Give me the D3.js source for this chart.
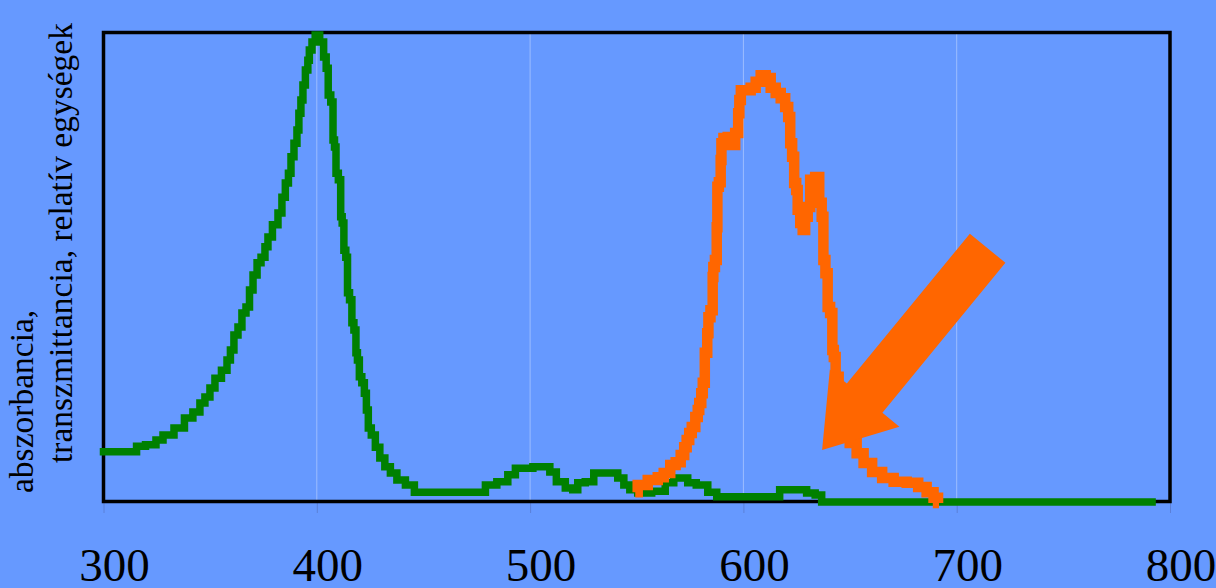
<!DOCTYPE html>
<html>
<head>
<meta charset="utf-8">
<script src="https://cdn.jsdelivr.net/npm/d3@7"></script>
<style>
html,body{margin:0;padding:0;background:#6699FF;}
svg{display:block;}
</style>
</head>
<body>
<svg id="chart" width="1216" height="588"></svg>
<script>
// ---------- data ----------
const xTicks = [300, 400, 500, 600, 700, 800];
const gridTicks = [400, 500, 600, 700];
const yLabelLines = ["abszorbancia,", "transzmittancia, relatív egységek"];

// green: absorbance spectrum (wavelength nm, relative units 0..100)
const greenWl = [300,315,316,323.4,325.8,330,336.1,339.8,344,346.4,348.7,351.1,353.4,357.2,358.6,360.4,361.9,364.2,365.6,368,368.9,371.3,372.7,375,376.4,377.8,380.6,383,384.3,386.2,387.2,388.6,390,391.4,391.8,393.3,393.7,395.6,396,397,398.5,400,402.7,403.7,405.1,405.6,407.5,407.7,408.9,409.1,411.1,411.3,412.5,412.9,414.3,414.5,416.2,416.7,418.1,418.6,419.5,420.4,421.8,422.8,423.7,424.6,426.5,428.4,430.7,433.1,435.9,439.2,443.9,447.6,476.7,481.4,487.4,491.7,494.5,508.1,510.4,514.2,518.8,521.2,523.5,528.2,531.5,539.9,542.3,545.6,547.9,553,561,565.7,569,572.7,575.1,580.7,585.9,589.1,615.8,618.2,628,631.3,636,637.4,791.6];
const greenVal = [10.7,10.7,11.9,12.2,13.2,14.3,15.8,17.9,19.2,21.1,22.4,24.3,26.4,28.1,30.3,32.4,35.6,37.3,40.3,41.6,45.2,48.4,51.0,52.2,54.4,56.5,59.1,61.6,65.0,68.0,70.1,73.6,76.5,79.3,82.9,85.7,88.9,92.1,94.2,96.4,98.1,99.6,98.1,94.9,92.5,86.8,85.3,77.2,75.7,70.1,68.7,60.8,59.5,53.7,52.2,44.6,43.1,38.2,36.7,31.8,30.3,26.7,25.4,23.2,19.6,15.8,14.3,11.7,9.4,7.5,6.2,4.7,3.6,2.1,2.1,3.6,4.3,5.8,7.2,7.5,6.4,4.3,3.0,2.6,4.1,4.3,6.2,6.2,5.1,3.6,2.6,1.9,2.3,4.1,5.1,5.1,4.1,3.6,2.1,1.1,1.1,2.6,2.6,1.9,1.5,0,0];

// orange: transmittance spectrum
const orangeWl = [549.3,551.6,558.7,561,564.3,567.1,569.4,571.8,572.7,574.1,575.1,576.5,578.4,578.8,579.8,580.7,581.2,582.6,583.5,583.7,585.4,585.8,586,587.3,587.7,587.9,589.1,589.6,589.8,591.5,593.8,595.2,597.1,598,598.2,599.4,602.2,604.6,606.9,609.3,611.6,614,616.3,618.7,620.5,621.5,622.4,623.3,624.3,625.2,625.7,627.6,628,629.9,630.4,632.2,635.1,636,637.4,637.6,639.3,639.7,641.6,641.8,643,643.5,645.8,648.2,651.5,654.7,658,662.7,667.4,673.5,679.6,684.3,687.5,690.8,691.7];
const orangeVal = [2.1,3.6,4.7,5.3,6.2,7.9,8.5,10.0,11.7,13.2,14.7,16.0,18.1,19.6,21.1,23.2,25.4,31.8,36.0,39.4,40.9,48.0,50.1,51.6,58.6,67.2,68.2,72.9,76.5,77.6,77.8,76.1,78.7,82.9,85.7,87.8,87.8,88.3,89.6,91.0,90.4,88.3,87.2,86.1,84.2,82.1,76.5,73.6,68.0,66.5,62.3,59.5,58.0,60.8,62.9,68.7,69.3,63.8,60.8,51.6,48.8,41.6,40.3,32.4,30.9,26.7,21.7,16.4,12.6,10.4,8.3,6.4,5.1,4.3,4.1,3.2,2.1,0.9,-0.2];

// arrow annotation (data coordinates)
const arrowTip = {wl: 636.9, val: 11.1};
const arrowTail = {wl: 714.5, val: 54.1};

// ---------- layout ----------
const W = 1216, H = 588;
const m = {left: 103.5, right: 1170, top: 33, bottom: 502};
const svg = d3.select("#chart");
svg.append("rect").attr("width", W).attr("height", H).attr("fill", "#6699FF");

const x = d3.scaleLinear().domain([300, 800]).range([m.left, m.right]);
const y = d3.scaleLinear().domain([0, 100]).range([m.bottom, m.top]);

// grid lines
svg.append("g").selectAll("line").data(gridTicks).join("line")
  .attr("x1", d => x(d)).attr("x2", d => x(d))
  .attr("y1", m.top).attr("y2", m.bottom)
  .attr("stroke", "#9DBDFF").attr("stroke-width", 1);

// x axis
const xAxis = d3.axisBottom(x).tickValues(xTicks).tickSize(11).tickPadding(0).tickFormat(d3.format("d"));
const gx = svg.append("g").attr("transform", `translate(0,${m.bottom})`).call(xAxis);
gx.select(".domain").remove();
gx.selectAll(".tick line").attr("stroke", "#5B80D8").attr("stroke-width", 1);
gx.selectAll(".tick text")
  .attr("fill", "#000")
  .attr("font-family", "'Liberation Serif', 'Times New Roman', serif")
  .attr("font-size", 47)
  .attr("x", 10.5)
  .attr("y", 79)
  .attr("dy", 0);

// frame
svg.append("rect")
  .attr("x", m.left).attr("y", m.top - 0.5)
  .attr("width", m.right - m.left).attr("height", m.bottom - m.top)
  .attr("fill", "none").attr("stroke", "#000").attr("stroke-width", 3.5);

// y label (two lines, rotated)
const yl = svg.append("g").attr("font-family", "'Liberation Serif', 'Times New Roman', serif")
  .attr("font-size", 33.5).attr("fill", "#000");
const labelPos = [{bx: 33, sy: 493}, {bx: 72, sy: 463}];
yLabelLines.forEach((t, i) => {
  yl.append("text")
    .attr("transform", `translate(${labelPos[i].bx},${labelPos[i].sy}) rotate(-90)`)
    .attr("text-anchor", "start")
    .text(t);
});

// lines (stepped, like the original's dense square markers)
const line = d3.line().x(d => x(d[0])).y(d => y(d[1])).curve(d3.curveStep);
const green = greenWl.map((w, i) => [w, greenVal[i]]);
const orange = orangeWl.map((w, i) => [w, orangeVal[i]]);

svg.append("path").datum(green).attr("d", line)
  .attr("fill", "none").attr("stroke", "#008000").attr("stroke-width", 7.5)
  .attr("stroke-linejoin", "miter").attr("stroke-linecap", "square");
svg.append("path").datum(orange).attr("d", line)
  .attr("fill", "none").attr("stroke", "#FF6600").attr("stroke-width", 10.5)
  .attr("stroke-linejoin", "miter").attr("stroke-linecap", "butt");

// arrow
(function(){
  const tx = x(arrowTip.wl), ty = y(arrowTip.val);
  const ax = x(arrowTail.wl), ay = y(arrowTail.val);
  const dx = tx - ax, dy = ty - ay, L = Math.hypot(dx, dy);
  const ux = dx / L, uy = dy / L;
  const px = -uy, py = ux;
  const headLen = 67, headHalf = 45, shaftHalf = 23;
  const bx = tx - ux * headLen, by = ty - uy * headLen;
  const pts = [
    [tx, ty],
    [bx + px * headHalf, by + py * headHalf],
    [bx + px * shaftHalf, by + py * shaftHalf],
    [ax + px * shaftHalf, ay + py * shaftHalf],
    [ax - px * shaftHalf, ay - py * shaftHalf],
    [bx - px * shaftHalf, by - py * shaftHalf],
    [bx - px * headHalf, by - py * headHalf]
  ];
  svg.append("polygon").attr("points", pts.map(p => p.join(",")).join(" "))
    .attr("fill", "#FF6600");
})();
</script>
</body>
</html>
